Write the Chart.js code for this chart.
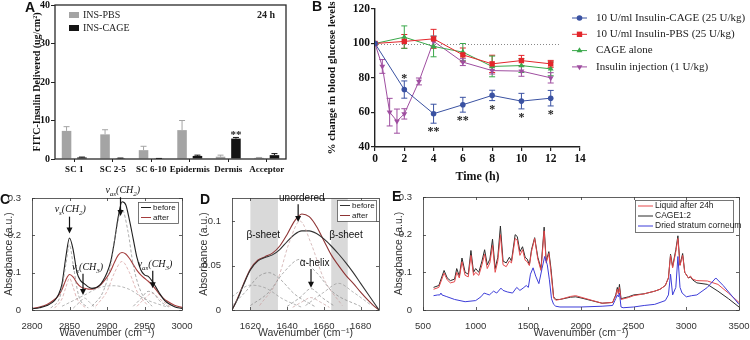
<!DOCTYPE html>
<html>
<head>
<meta charset="utf-8">
<title>Insulin-CAGE figure</title>
<script src="https://cdn.jsdelivr.net/npm/chart.js@4.4.1/dist/chart.umd.min.js"></script>
<style>
  html, body { margin: 0; padding: 0; background: #fff; }
  #fig { position: relative; width: 750px; height: 340px; overflow: hidden; }
  #fig canvas { position: absolute; }
</style>
</head>
<body>
<div id="fig">
  <canvas id="panelA" width="300" height="185" style="left:0;top:0"></canvas>
  <canvas id="panelB" width="450" height="190" style="left:300px;top:0"></canvas>
  <canvas id="panelC" width="200" height="155" style="left:0;top:185px"></canvas>
  <canvas id="panelD" width="194" height="155" style="left:196px;top:185px"></canvas>
  <canvas id="panelE" width="360" height="155" style="left:390px;top:185px"></canvas>
</div>
<script>
// ---------- Panel A: FITC-insulin delivered after 24 h ----------
const aCategories = ['SC 1', 'SC 2-5', 'SC 6-10', 'Epidermis', 'Dermis', 'Acceptor'];
const aPbs     = [7.3, 6.4, 2.3, 7.5, 0.6, 0.3];
const aPbsErr  = [1.1, 1.2, 1.0, 2.5, 0.4, 0.1];
const aCage    = [0.4, 0.2, 0.1, 0.8, 5.3, 1.0];
const aCageErr = [0.1, 0.05, 0.05, 0.2, 0.3, 0.4];
const aStars   = ['', '', '', '', '**', ''];

// ---------- Panel B: blood glucose ----------
const bTime     = [0, 2, 4, 6, 8, 10, 12];
const bInjTime  = [0, 0.5, 1, 1.5, 2, 3, 4, 6, 8, 10, 12];
const bCage     = [100, 73.3, 59.3, 64.5, 69.9, 66.6, 68.3];
const bCageErr  = [0, 5, 5.5, 4.3, 3, 4.5, 4.5];
const bPbs      = [100, 101.2, 102.7, 93.4, 88.2, 90.1, 88.2];
const bPbsErr   = [0, 4, 5.5, 4, 5, 3, 2];
const bAlone    = [100, 103.7, 98.3, 95, 86.7, 87.2, 85.3];
const bAloneErr = [0, 6.5, 6, 5, 6, 4, 4];
const bInj      = [100, 86.7, 60.2, 55, 59.2, 78, 101.3, 89.2, 84.3, 84, 80.1];
const bInjErr   = [0, 4, 8, 7, 3, 2, 3, 2, 2, 3, 3];
const bStars    = ['', '*', '**', '**', '*', '*', '*'];
const bStarAbove = [false, true, false, false, false, false, false];
const bSeriesNames = ['10 U/ml Insulin-CAGE (25 U/kg)', '10 U/ml Insulin-PBS (25 U/kg)', 'CAGE alone', 'Insulin injection (1 U/kg)'];
const bBaseline = 100;
const bBaselineEnd = 12.6;

// ---------- Panel C: CH stretching region ----------
const cWn     = [2800, 2810, 2820, 2830, 2835, 2840, 2845, 2850, 2855, 2860, 2865, 2870, 2875, 2880, 2890, 2900, 2905, 2910, 2915, 2920, 2925, 2930, 2935, 2940, 2945, 2950, 2955, 2960, 2965, 2970, 2975, 2980, 2990, 3000];
const cBefore = [0.003, 0.006, 0.012, 0.025, 0.04, 0.07, 0.14, 0.193, 0.16, 0.1, 0.078, 0.07, 0.062, 0.058, 0.066, 0.1, 0.13, 0.185, 0.25, 0.29, 0.282, 0.24, 0.19, 0.14, 0.108, 0.094, 0.09, 0.078, 0.062, 0.045, 0.03, 0.02, 0.009, 0.004];
const cAfter  = [0.004, 0.008, 0.015, 0.028, 0.038, 0.055, 0.08, 0.095, 0.088, 0.072, 0.062, 0.058, 0.056, 0.056, 0.065, 0.088, 0.105, 0.128, 0.147, 0.154, 0.15, 0.138, 0.122, 0.106, 0.094, 0.085, 0.077, 0.067, 0.055, 0.042, 0.032, 0.024, 0.013, 0.007];
// fitted components (dashed)
const cFit1Wn = [2825, 2838, 2845, 2850, 2855, 2862, 2875];
const cFit1   = [0.005, 0.04, 0.12, 0.175, 0.12, 0.04, 0.005];
const cFit2Wn = [2880, 2895, 2905, 2912, 2920, 2928, 2935, 2945, 2960];
const cFit2   = [0.01, 0.05, 0.12, 0.21, 0.27, 0.21, 0.12, 0.05, 0.01];
const cFit3Wn = [2840, 2870, 2890, 2910, 2930, 2950, 2980];
const cFit3   = [0.01, 0.04, 0.06, 0.065, 0.055, 0.03, 0.008];
const cFit4Wn = [2855, 2863, 2870, 2877, 2885];
const cFit4   = [0.005, 0.02, 0.032, 0.02, 0.005];
const cFit5Wn = [2935, 2945, 2955, 2962, 2970, 2985];
const cFit5   = [0.01, 0.03, 0.05, 0.045, 0.025, 0.005];
const cFitR1Wn = [2830, 2840, 2845, 2850, 2855, 2860, 2872];
const cFitR1   = [0.005, 0.03, 0.06, 0.085, 0.06, 0.03, 0.005];
const cFitR2Wn = [2885, 2900, 2910, 2920, 2930, 2940, 2955];
const cFitR2   = [0.01, 0.05, 0.1, 0.13, 0.1, 0.05, 0.01];
const cFitR3Wn = [2940, 2950, 2960, 2970, 2985];
const cFitR3   = [0.01, 0.03, 0.045, 0.03, 0.008];
const cXTicks = [2800, 2850, 2900, 2950, 3000];
const cYTicks = [0, 0.1, 0.2, 0.3];

// ---------- Panel D: amide I region ----------
const dWn     = [1610, 1613, 1616, 1620, 1624, 1628, 1632, 1636, 1640, 1644, 1648, 1652, 1656, 1660, 1664, 1668, 1672, 1676, 1680, 1684, 1687, 1690];
const dBefore = [0, 0.012, 0.027, 0.045, 0.055, 0.059, 0.062, 0.068, 0.077, 0.085, 0.089, 0.089, 0.086, 0.08, 0.072, 0.063, 0.053, 0.042, 0.03, 0.018, 0.009, 0];
const dAfter  = [0, 0.013, 0.028, 0.046, 0.056, 0.06, 0.064, 0.072, 0.085, 0.1, 0.108, 0.105, 0.094, 0.078, 0.062, 0.05, 0.039, 0.03, 0.02, 0.011, 0.005, 0];
const dFit1Wn = [1610, 1618, 1624, 1630, 1636, 1644, 1655];
const dFit1   = [0.005, 0.022, 0.037, 0.042, 0.035, 0.018, 0.004];
const dFit2Wn = [1620, 1630, 1638, 1647, 1656, 1665, 1680];
const dFit2   = [0.005, 0.02, 0.042, 0.057, 0.042, 0.02, 0.004];
const dFit3Wn = [1625, 1635, 1641, 1647, 1653, 1660, 1670];
const dFit3   = [0.005, 0.035, 0.075, 0.1, 0.075, 0.035, 0.005];
const dFit4Wn = [1640, 1647, 1653, 1659, 1666];
const dFit4   = [0.004, 0.014, 0.024, 0.014, 0.004];
const dFit5Wn = [1643, 1648, 1653, 1658, 1663];
const dFit5   = [0.003, 0.009, 0.014, 0.009, 0.003];
const dFit6Wn = [1650, 1660, 1668, 1676, 1686];
const dFit6   = [0.005, 0.02, 0.03, 0.02, 0.005];
const dFit7Wn = [1610, 1620, 1628, 1638, 1648];
const dFit7   = [0.015, 0.028, 0.025, 0.012, 0.003];
const dSheetBands = [[1620, 1635], [1664, 1673]];
const dXTicks = [1620, 1640, 1660, 1680];
const dYTicks = [0, 0.05, 0.1];

// ---------- Panel E: full spectra ----------
const eWn    = [600, 650, 700, 730, 760, 800, 820, 845, 870, 900, 930, 955, 980, 1000, 1030, 1060, 1085, 1110, 1135, 1160, 1185, 1210, 1235, 1260, 1290, 1320, 1340, 1375, 1395, 1420, 1445, 1470, 1490, 1510, 1530, 1560, 1590, 1620, 1650, 1670, 1695, 1715, 1740, 1760, 1800, 1900, 1950, 2000, 2100, 2200, 2300, 2330, 2345, 2355, 2365, 2380, 2450, 2500, 2600, 2700, 2750, 2800, 2830, 2850, 2870, 2900, 2920, 2940, 2965, 2985, 3020, 3040, 3060, 3100, 3200, 3300, 3400, 3500];
const eCage  = [0.06, 0.065, 0.105, 0.085, 0.078, 0.082, 0.11, 0.09, 0.138, 0.1, 0.095, 0.158, 0.1, 0.11, 0.1, 0.13, 0.16, 0.12, 0.135, 0.188, 0.11, 0.14, 0.223, 0.13, 0.125, 0.14, 0.13, 0.2, 0.195, 0.155, 0.168, 0.14, 0.135, 0.12, 0.16, 0.192, 0.14, 0.11, 0.22, 0.13, 0.155, 0.11, 0.035, 0.028, 0.028, 0.034, 0.035, 0.032, 0.025, 0.018, 0.02, 0.04, 0.06, 0.045, 0.068, 0.03, 0.035, 0.04, 0.043, 0.05, 0.055, 0.065, 0.085, 0.148, 0.115, 0.16, 0.197, 0.12, 0.15, 0.1, 0.085, 0.088, 0.08, 0.072, 0.068, 0.05, 0.03, 0.008];
const eLiquid = [0.055, 0.06, 0.098, 0.08, 0.072, 0.075, 0.1, 0.085, 0.128, 0.092, 0.088, 0.145, 0.092, 0.1, 0.092, 0.12, 0.148, 0.11, 0.125, 0.172, 0.1, 0.13, 0.2, 0.12, 0.115, 0.13, 0.125, 0.19, 0.185, 0.145, 0.16, 0.132, 0.128, 0.118, 0.155, 0.19, 0.135, 0.105, 0.21, 0.125, 0.15, 0.1, 0.032, 0.026, 0.028, 0.036, 0.038, 0.034, 0.026, 0.018, 0.02, 0.038, 0.055, 0.042, 0.06, 0.028, 0.033, 0.038, 0.043, 0.05, 0.055, 0.065, 0.085, 0.145, 0.112, 0.155, 0.19, 0.118, 0.145, 0.1, 0.085, 0.09, 0.082, 0.078, 0.077, 0.068, 0.045, 0.02];
const eWnSC  = [600, 640, 660, 670, 680, 720, 800, 900, 1000, 1050, 1080, 1100, 1130, 1150, 1170, 1200, 1240, 1260, 1300, 1350, 1390, 1420, 1450, 1480, 1500, 1520, 1545, 1570, 1600, 1630, 1655, 1680, 1700, 1720, 1740, 1760, 1800, 2000, 2200, 2300, 2330, 2345, 2355, 2365, 2380, 2400, 2500, 2600, 2700, 2800, 2830, 2850, 2870, 2900, 2920, 2940, 2960, 3000, 3050, 3100, 3200, 3280, 3350, 3500];
const eSC    = [0.038, 0.04, 0.04, 0.045, 0.04, 0.036, 0.028, 0.022, 0.025, 0.035, 0.045, 0.043, 0.04, 0.045, 0.05, 0.045, 0.058, 0.052, 0.048, 0.045, 0.06, 0.052, 0.058, 0.065, 0.06, 0.095, 0.112, 0.09, 0.07, 0.11, 0.142, 0.12, 0.08, 0.03, 0.015, 0.01, 0.008, 0.008, 0.01, 0.012, 0.03, 0.04, 0.035, 0.045, 0.008, 0.006, 0.008, 0.012, 0.015, 0.025, 0.04, 0.095, 0.04, 0.06, 0.142, 0.06, 0.045, 0.035, 0.038, 0.04, 0.06, 0.085, 0.065, 0.015];
const eXTicks = [500, 1000, 1500, 2000, 2500, 3000, 3500];
const eYTicks = [0, 0.1, 0.2, 0.3];

const SERIF = '"Liberation Serif", "Times New Roman", serif';
const SANS = '"Liberation Sans", Arial, "DejaVu Sans", sans-serif';

function xy(xs, ys) {
    return xs.map((x, i) => ({ x: x, y: ys[i] }));
}

// force axis box sizes so the plot areas land where the figure has them
function fitX(h) {
    return s => { s.height = h; s.paddingLeft = 0; s.paddingRight = 0; };
}
function fitY(w) {
    return s => { s.width = w; s.paddingTop = 0; s.paddingBottom = 0; };
}

function panelLetter(ctx, letter, x, y) {
    ctx.save();
    ctx.font = 'bold 14px ' + SANS;
    ctx.fillStyle = '#111';
    ctx.textAlign = 'left';
    ctx.textBaseline = 'middle';
    ctx.fillText(letter, x, y);
    ctx.restore();
}

// vertical error bars from dataset.errs
const errorBars = {
    id: 'errorBars',
    beforeDatasetsDraw(chart) {
        const ctx = chart.ctx;
        chart.data.datasets.forEach((ds, i) => {
            if (!ds.errs) return;
            const meta = chart.getDatasetMeta(i);
            const ys = chart.scales[meta.yAxisID];
            ctx.save();
            ctx.strokeStyle = ds.errColor;
            ctx.lineWidth = 1;
            meta.data.forEach((el, j) => {
                const e = ds.errs[j];
                if (!e) return;
                const v = typeof ds.data[j] === 'object' ? ds.data[j].y : ds.data[j];
                const top = ys.getPixelForValue(v + e);
                const bot = ds.errBoth ? ys.getPixelForValue(v - e) : el.y;
                const cap = ds.errCap;
                ctx.beginPath();
                ctx.moveTo(el.x, bot);
                ctx.lineTo(el.x, top);
                ctx.moveTo(el.x - cap, top);
                ctx.lineTo(el.x + cap, top);
                if (ds.errBoth) {
                    ctx.moveTo(el.x - cap, bot);
                    ctx.lineTo(el.x + cap, bot);
                }
                ctx.stroke();
            });
            ctx.restore();
        });
    }
};

// MATLAB style frame with inward ticks
const matlabFrame = {
    id: 'matlabFrame',
    afterDatasetsDraw(chart) {
        const { ctx, chartArea: a, scales: { x, y } } = chart;
        ctx.save();
        ctx.strokeStyle = '#3a3a3a';
        ctx.lineWidth = 0.8;
        ctx.strokeRect(Math.round(a.left) + 0.5, Math.round(a.top) + 0.5, Math.round(a.right - a.left), Math.round(a.bottom - a.top));
        ctx.beginPath();
        x.ticks.forEach(t => {
            const px = Math.round(x.getPixelForValue(t.value)) + 0.5;
            ctx.moveTo(px, a.bottom); ctx.lineTo(px, a.bottom - 3);
            ctx.moveTo(px, a.top); ctx.lineTo(px, a.top + 3);
        });
        y.ticks.forEach(t => {
            const py = Math.round(y.getPixelForValue(t.value)) + 0.5;
            ctx.moveTo(a.left, py); ctx.lineTo(a.left + 3, py);
            ctx.moveTo(a.right, py); ctx.lineTo(a.right - 3, py);
        });
        ctx.stroke();
        ctx.restore();
    }
};

function drawLegendBox(ctx, box, rows) {
    ctx.save();
    ctx.fillStyle = '#fff';
    ctx.fillRect(box.x, box.y, box.w, box.h);
    ctx.strokeStyle = '#555';
    ctx.lineWidth = 0.8;
    ctx.strokeRect(box.x + 0.5, box.y + 0.5, box.w, box.h);
    ctx.font = box.size + 'px ' + SANS;
    ctx.textAlign = 'left';
    ctx.textBaseline = 'middle';
    rows.forEach((r, i) => {
        const yy = box.y + box.first + i * box.step;
        ctx.strokeStyle = r.color;
        ctx.lineWidth = 1;
        ctx.beginPath();
        ctx.moveTo(box.x + 3, yy);
        ctx.lineTo(box.x + 3 + box.line, yy);
        ctx.stroke();
        ctx.fillStyle = '#222';
        ctx.fillText(r.text, box.x + 5 + box.line, yy);
    });
    ctx.restore();
}

// text with subscripts, parts = [[text, isSub], ...]
function drawRich(ctx, parts, cx, cy, size) {
    const big = 'italic ' + size + 'px ' + SERIF;
    const small = 'italic ' + Math.round(size * 0.72) + 'px ' + SERIF;
    let w = 0;
    parts.forEach(p => { ctx.font = p[1] ? small : big; w += ctx.measureText(p[0]).width; });
    let x = cx - w / 2;
    ctx.textAlign = 'left';
    ctx.textBaseline = 'alphabetic';
    parts.forEach(p => {
        ctx.font = p[1] ? small : big;
        ctx.fillText(p[0], x, cy + (p[1] ? size * 0.25 : 0));
        x += ctx.measureText(p[0]).width;
    });
}

function drawArrow(ctx, x, y1, y2) {
    ctx.beginPath();
    ctx.moveTo(x, y1);
    ctx.lineTo(x, y2 - 5);
    ctx.stroke();
    ctx.beginPath();
    ctx.moveTo(x - 3, y2 - 6);
    ctx.lineTo(x + 3, y2 - 6);
    ctx.lineTo(x, y2);
    ctx.closePath();
    ctx.fill();
}

function matlabOptions(o) {
    return {
        responsive: false,
        animation: false,
        devicePixelRatio: 1,
        layout: { padding: o.padding },
        plugins: { legend: { display: false }, tooltip: { enabled: false } },
        elements: { point: { radius: 0 } },
        scales: {
            x: {
                type: 'linear', min: o.xMin, max: o.xMax,
                afterBuildTicks: s => { s.ticks = o.xTicks.map(v => ({ value: v })); },
                ticks: { font: { family: SANS, size: 9.5 }, color: '#333', padding: 3, maxRotation: 0, autoSkip: false, callback: v => String(v) },
                grid: { display: false },
                border: { display: false },
                title: { display: true, text: 'Wavenumber (cm\u207B\u00B9)', font: { family: SANS, size: 10.5 }, color: '#333', padding: { top: 0, bottom: 1 } },
                afterFit: fitX(o.xHeight)
            },
            y: {
                type: 'linear', min: o.yMin, max: o.yMax,
                afterBuildTicks: s => { s.ticks = o.yTicks.map(v => ({ value: v })); },
                ticks: { font: { family: SANS, size: 9.5 }, color: '#333', padding: 3, callback: v => String(v) },
                grid: { display: false },
                border: { display: false },
                title: { display: true, text: 'Absorbance (a.u.)', font: { family: SANS, size: 10.5 }, color: '#333', padding: { top: 2, bottom: 0 } },
                afterFit: fitY(o.yWidth)
            }
        }
    };
}

function mainLine(label, xs, ys, color, width) {
    return { label: label, data: xy(xs, ys), borderColor: color, borderWidth: width, pointRadius: 0, fill: false, cubicInterpolationMode: 'monotone' };
}
function fitLine(xs, ys, color) {
    return { data: xy(xs, ys), borderColor: color, borderWidth: 0.7, borderDash: [3, 2], pointRadius: 0, fill: false, cubicInterpolationMode: 'monotone' };
}

// ================= Panel A =================
const panelAExtras = {
    id: 'panelAExtras',
    afterDraw(chart) {
        const { ctx, chartArea: a } = chart;
        const ys = chart.scales.y;
        ctx.save();
        ctx.strokeStyle = '#2a2a2a';
        ctx.lineWidth = 1.3;
        ctx.strokeRect(a.left, a.top, a.right - a.left, a.bottom - a.top);
        ctx.textAlign = 'left';
        ctx.textBaseline = 'middle';
        chart.data.datasets.forEach((ds, i) => {
            const yy = 15 + i * 13;
            ctx.fillStyle = ds.backgroundColor;
            ctx.fillRect(69, yy - 3, 10, 6);
            ctx.fillStyle = '#222';
            ctx.font = '10px ' + SERIF;
            ctx.fillText(ds.label, 83, yy);
        });
        ctx.font = 'bold 10px ' + SERIF;
        ctx.fillText('24 h', 257, 15);
        const meta = chart.getDatasetMeta(1);
        ctx.font = 'bold 11px ' + SERIF;
        ctx.textAlign = 'center';
        ctx.textBaseline = 'alphabetic';
        aStars.forEach((s, j) => {
            if (!s) return;
            ctx.fillText(s, meta.data[j].x, ys.getPixelForValue(aCage[j] + aCageErr[j]) + 1);
        });
        ctx.restore();
        panelLetter(ctx, 'A', 25, 8);
    }
};

new Chart(document.getElementById('panelA'), {
    type: 'bar',
    data: {
        labels: aCategories,
        datasets: [
            { label: 'INS-PBS', data: aPbs, errs: aPbsErr, errCap: 3, errColor: '#a4a4a4', backgroundColor: '#a4a4a4', borderWidth: 0 },
            { label: 'INS-CAGE', data: aCage, errs: aCageErr, errCap: 3, errColor: '#141414', backgroundColor: '#141414', borderWidth: 0 }
        ]
    },
    options: {
        responsive: false,
        animation: false,
        devicePixelRatio: 1,
        layout: { padding: { left: 27, top: 5, right: 14, bottom: 0 } },
        plugins: { legend: { display: false }, tooltip: { enabled: false } },
        datasets: { bar: { categoryPercentage: 0.8, barPercentage: 0.62 } },
        scales: {
            x: {
                grid: { display: true, drawOnChartArea: false, offset: false, tickLength: 3, color: '#222' },
                border: { display: false },
                ticks: { font: { family: SERIF, size: 9, weight: 'bold' }, color: '#111', padding: 2, maxRotation: 0, autoSkip: false },
                afterFit: fitX(26)
            },
            y: {
                min: 0, max: 40,
                ticks: { stepSize: 10, font: { family: SERIF, size: 10, weight: 'bold' }, color: '#111', padding: 1 },
                grid: { drawOnChartArea: false, tickLength: 4, color: '#222' },
                border: { display: false },
                title: { display: true, text: 'FITC-Insulin Delivered (ug/cm\u00B2)', font: { family: SERIF, size: 10, weight: 'bold' }, color: '#111', padding: { top: 4, bottom: 0 } },
                afterFit: fitY(28)
            }
        }
    },
    plugins: [errorBars, panelAExtras]
});

// ================= Panel B =================
const bColors = ['#3a52a2', '#e3262b', '#3aa84a', '#9f4ea0'];
const bStyles = [
    { pointStyle: 'circle', radius: 2.8, rotation: 0 },
    { pointStyle: 'rect', radius: 3.8, rotation: 0 },
    { pointStyle: 'triangle', radius: 3.4, rotation: 0 },
    { pointStyle: 'triangle', radius: 3.4, rotation: 180 }
];

function bSeries(i, xs, ys, errs) {
    return {
        label: bSeriesNames[i], data: xy(xs, ys), errs: errs, errBoth: true, errCap: 3,
        errColor: bColors[i], borderColor: bColors[i], backgroundColor: bColors[i],
        borderWidth: 1, pointStyle: bStyles[i].pointStyle, pointRadius: bStyles[i].radius,
        pointRotation: bStyles[i].rotation, pointBorderWidth: 0, tension: 0, fill: false
    };
}

const panelBExtras = {
    id: 'panelBExtras',
    beforeDatasetsDraw(chart) {
        const { ctx, scales: { x, y } } = chart;
        ctx.save();
        ctx.strokeStyle = '#888';
        ctx.lineWidth = 1;
        ctx.setLineDash([1, 2]);
        ctx.beginPath();
        ctx.moveTo(x.getPixelForValue(0), Math.round(y.getPixelForValue(bBaseline)) + 0.5);
        ctx.lineTo(x.getPixelForValue(bBaselineEnd), Math.round(y.getPixelForValue(bBaseline)) + 0.5);
        ctx.stroke();
        ctx.restore();
    },
    afterDraw(chart) {
        const { ctx, scales: { y } } = chart;
        const meta = chart.getDatasetMeta(0);
        ctx.save();
        ctx.fillStyle = '#222';
        ctx.font = 'bold 12px ' + SERIF;
        ctx.textAlign = 'center';
        ctx.textBaseline = 'alphabetic';
        bStars.forEach((s, j) => {
            if (!s) return;
            const el = meta.data[j];
            const py = bStarAbove[j] ? y.getPixelForValue(bCage[j] + bCageErr[j]) + 1 : y.getPixelForValue(bCage[j] - bCageErr[j]) + 12;
            ctx.fillText(s, el.x, py);
        });
        // legend (chart canvas starts at x=300)
        ctx.font = '11px ' + SERIF;
        ctx.textAlign = 'left';
        ctx.textBaseline = 'middle';
        chart.data.datasets.forEach((ds, i) => {
            const yy = 18 + i * 16.3;
            ctx.strokeStyle = bColors[i];
            ctx.lineWidth = 1;
            ctx.beginPath();
            ctx.moveTo(272, yy);
            ctx.lineTo(287, yy);
            ctx.stroke();
            ctx.fillStyle = bColors[i];
            Chart.helpers.drawPoint(ctx, { pointStyle: bStyles[i].pointStyle, radius: bStyles[i].radius, rotation: bStyles[i].rotation, borderWidth: 0 }, 279.5, yy);
            ctx.fillStyle = '#222';
            ctx.fillText(ds.label, 296, yy);
        });
        ctx.restore();
        panelLetter(ctx, 'B', 12, 7);
    }
};

new Chart(document.getElementById('panelB'), {
    type: 'line',
    data: {
        datasets: [
            bSeries(0, bTime, bCage, bCageErr),
            bSeries(1, bTime, bPbs, bPbsErr),
            bSeries(2, bTime, bAlone, bAloneErr),
            bSeries(3, bInjTime, bInj, bInjErr)
        ]
    },
    options: {
        responsive: false,
        animation: false,
        devicePixelRatio: 1,
        layout: { padding: { left: 22, top: 9, right: 170, bottom: 2 } },
        plugins: { legend: { display: false }, tooltip: { enabled: false } },
        scales: {
            x: {
                type: 'linear', min: 0, max: 14,
                ticks: { stepSize: 2, font: { family: SERIF, size: 11.5, weight: 'bold' }, color: '#111', padding: 1, maxRotation: 0 },
                grid: { drawOnChartArea: false, tickLength: 4, color: '#222', lineWidth: 1.2 },
                border: { display: true, color: '#222', width: 1.4 },
                title: { display: true, text: 'Time (h)', font: { family: SERIF, size: 12, weight: 'bold' }, color: '#111', padding: { top: 0, bottom: 4 } },
                afterFit: fitX(41)
            },
            y: {
                min: 40, max: 120,
                ticks: { stepSize: 20, font: { family: SERIF, size: 11.5, weight: 'bold' }, color: '#111', padding: 1 },
                grid: { drawOnChartArea: false, tickLength: 4, color: '#222', lineWidth: 1.2 },
                border: { display: true, color: '#222', width: 1.4 },
                title: { display: true, text: '% change in blood glucose levels', font: { family: SERIF, size: 11, weight: 'bold' }, color: '#111', padding: { top: 4, bottom: 0 } },
                afterFit: fitY(53)
            }
        }
    },
    plugins: [errorBars, panelBExtras]
});

// ================= Panel C =================
const cNotes = [
    { parts: [['\u03BD', 0], ['s', 1], ['(CH', 0], ['2', 1], [')', 0]], x: 2851, y: 0.262, ax: 2850, a1: 0.25, a2: 0.205 },
    { parts: [['\u03BD', 0], ['as', 1], ['(CH', 0], ['2', 1], [')', 0]], x: 2921, y: 0.313, ax: 2918, a1: 0.302, a2: 0.252 },
    { parts: [['\u03BD', 0], ['s', 1], ['(CH', 0], ['3', 1], [')', 0]], x: 2874, y: 0.107, ax: 2868, a1: 0.097, a2: 0.04 },
    { parts: [['\u03BD', 0], ['as', 1], ['(CH', 0], ['3', 1], [')', 0]], x: 2964, y: 0.115, ax: 2961, a1: 0.105, a2: 0.058 }
];

const panelCExtras = {
    id: 'panelCExtras',
    afterDraw(chart) {
        const { ctx, scales: { x, y } } = chart;
        ctx.save();
        ctx.fillStyle = '#111';
        ctx.strokeStyle = '#111';
        ctx.lineWidth = 1.2;
        cNotes.forEach(n => {
            drawRich(ctx, n.parts, x.getPixelForValue(n.x), y.getPixelForValue(n.y), 10);
            drawArrow(ctx, x.getPixelForValue(n.ax), y.getPixelForValue(n.a1), y.getPixelForValue(n.a2));
        });
        ctx.restore();
        drawLegendBox(ctx, { x: 138, y: 17, w: 40, h: 21, first: 5.5, step: 10, line: 10, size: 8 },
            [{ text: 'before', color: '#1f1f1f' }, { text: 'after', color: '#a43c3c' }]);
        panelLetter(ctx, 'C', 0, 15);
    }
};

new Chart(document.getElementById('panelC'), {
    type: 'line',
    data: {
        datasets: [
            fitLine(cFit3Wn, cFit3, '#9a9a9a'),
            fitLine(cFit1Wn, cFit1, '#8a8a8a'),
            fitLine(cFit2Wn, cFit2, '#8a8a8a'),
            fitLine(cFit4Wn, cFit4, '#9a9a9a'),
            fitLine(cFit5Wn, cFit5, '#8a8a8a'),
            fitLine(cFitR1Wn, cFitR1, '#d49a9a'),
            fitLine(cFitR2Wn, cFitR2, '#d49a9a'),
            fitLine(cFitR3Wn, cFitR3, '#d49a9a'),
            mainLine('before', cWn, cBefore, '#1f1f1f', 1.1),
            mainLine('after', cWn, cAfter, '#a43c3c', 1.1)
        ]
    },
    options: matlabOptions({
        padding: { left: 1, top: 13, right: 18, bottom: 0 },
        xMin: 2800, xMax: 3000, xTicks: cXTicks, xHeight: 30,
        yMin: 0, yMax: 0.3, yTicks: cYTicks, yWidth: 31
    }),
    plugins: [matlabFrame, panelCExtras]
});

// ================= Panel D =================
const dNotes = [
    { text: 'unordered', x: 1648, y: 0.1225, arrow: [1646, 0.119, 0.099] },
    { text: '\u03B2-sheet', x: 1627, y: 0.081 },
    { text: '\u03B2-sheet', x: 1672, y: 0.081 },
    { text: '\u03B1-helix', x: 1655, y: 0.0494, arrow: [1653, 0.046, 0.025] }
];

const panelDExtras = {
    id: 'panelDExtras',
    beforeDatasetsDraw(chart) {
        const { ctx, chartArea: a, scales: { x } } = chart;
        ctx.save();
        ctx.fillStyle = '#d9d9d9';
        dSheetBands.forEach(b => {
            const x0 = x.getPixelForValue(b[0]);
            const x1 = x.getPixelForValue(b[1]);
            ctx.fillRect(x0, a.top, x1 - x0, a.bottom - a.top);
        });
        ctx.restore();
    },
    afterDraw(chart) {
        const { ctx, scales: { x, y } } = chart;
        ctx.save();
        ctx.fillStyle = '#111';
        ctx.strokeStyle = '#111';
        ctx.lineWidth = 1.2;
        dNotes.forEach(n => {
            ctx.font = '10px ' + SANS;
            ctx.textAlign = 'center';
            ctx.textBaseline = 'alphabetic';
            ctx.fillText(n.text, x.getPixelForValue(n.x), y.getPixelForValue(n.y));
            if (n.arrow) drawArrow(ctx, x.getPixelForValue(n.arrow[0]), y.getPixelForValue(n.arrow[1]), y.getPixelForValue(n.arrow[2]));
        });
        ctx.restore();
        drawLegendBox(ctx, { x: 141, y: 15, w: 39, h: 21, first: 5.5, step: 10, line: 10, size: 8 },
            [{ text: 'before', color: '#333' }, { text: 'after', color: '#8e3434' }]);
        panelLetter(ctx, 'D', 4, 15);
    }
};

new Chart(document.getElementById('panelD'), {
    type: 'line',
    data: {
        datasets: [
            fitLine(dFit7Wn, dFit7, '#9a9a9a'),
            fitLine(dFit1Wn, dFit1, '#8a8a8a'),
            fitLine(dFit2Wn, dFit2, '#8a8a8a'),
            fitLine(dFit3Wn, dFit3, '#c9a0a0'),
            fitLine(dFit4Wn, dFit4, '#8a8a8a'),
            fitLine(dFit5Wn, dFit5, '#c9a0a0'),
            fitLine(dFit6Wn, dFit6, '#9a9a9a'),
            mainLine('before', dWn, dBefore, '#333', 1.1),
            mainLine('after', dWn, dAfter, '#8e3434', 1.1)
        ]
    },
    options: matlabOptions({
        padding: { left: 0, top: 13, right: 11, bottom: 0 },
        xMin: 1610, xMax: 1690, xTicks: dXTicks, xHeight: 30,
        yMin: 0, yMax: 0.126, yTicks: dYTicks, yWidth: 36
    }),
    plugins: [matlabFrame, panelDExtras]
});

// ================= Panel E =================
const panelEExtras = {
    id: 'panelEExtras',
    afterDraw(chart) {
        const ctx = chart.ctx;
        drawLegendBox(ctx, { x: 245, y: 15, w: 98, h: 32, first: 6, step: 10, line: 15, size: 8.5 },
            [{ text: 'Liquid after 24h', color: '#e5484b' }, { text: 'CAGE1:2', color: '#2a2a2a' }, { text: 'Dried stratum corneum', color: '#3d3dd8' }]);
        panelLetter(ctx, 'E', 2, 12);
    }
};

function eLine(label, xs, ys, color) {
    return { label: label, data: xy(xs, ys), borderColor: color, borderWidth: 1, pointRadius: 0, fill: false, tension: 0 };
}

new Chart(document.getElementById('panelE'), {
    type: 'line',
    data: {
        datasets: [
            eLine('Dried stratum corneum', eWnSC, eSC, '#3d3dd8'),
            eLine('Liquid after 24h', eWn, eLiquid, '#e5484b'),
            eLine('CAGE1:2', eWn, eCage, '#2a2a2a')
        ]
    },
    options: matlabOptions({
        padding: { left: 1, top: 12, right: 11, bottom: 0 },
        xMin: 500, xMax: 3500, xTicks: eXTicks, xHeight: 30,
        yMin: 0, yMax: 0.3, yTicks: eYTicks, yWidth: 32
    }),
    plugins: [matlabFrame, panelEExtras]
});
</script>
</body>
</html>
